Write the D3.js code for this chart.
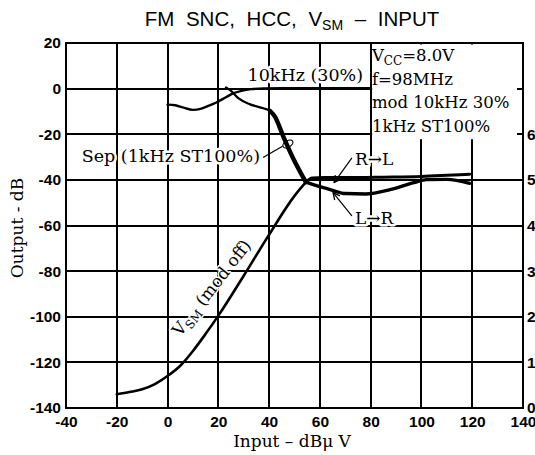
<!DOCTYPE html>
<html><head><meta charset="utf-8">
<script src="https://cdn.jsdelivr.net/npm/d3@7"></script>
<style>
body{margin:0;background:#fff;}
svg{display:block;}
</style>
</head><body>
<svg id="c" width="535" height="455"></svg>
<script>
// ---- data ----
const xTicks = [-40,-20,0,20,40,60,80,100,120,140];
const yTicks = [-140,-120,-100,-80,-60,-40,-20,0,20];
const rightTicks = [0,1,2,3,4,5,6];
const rightTickLabels = ["0","1.","2","3.","4.","5.","6."];

const hcc10k = [[0,-7],[3,-7.3],[6,-8.2],[10,-9.3],[13,-8.9],[16,-7.6],[19,-6.2],[23,-3.8],[26,-2],[29,-1],[33,-0.2],[38,0.1],[45,0.2],[60,0.2],[80,0.2]];
const sepMain = [[23,0.5],[25,-1],[28,-4.3],[32.5,-6.9],[37.7,-8.6],[40.3,-9.7],[42.3,-12.3],[45.6,-21],[49.5,-30.6],[54.5,-41]];
const sepRL = [[54.5,-41],[57,-39.2],[62,-39],[70,-39],[85,-38.8],[100,-38.5],[110,-38],[119,-37.5]];
const sepLR = [[54.5,-41],[60,-43],[65,-44.6],[70,-46],[78,-46.2],[88,-44.2],[97,-41.2],[102,-39.9],[110,-39.8],[119,-41.5]];
const vsm = [[-20,-134],[-15,-133],[-10,-131.8],[-5,-129.5],[0,-126],[5,-121.5],[10,-115],[15,-107.5],[20,-99.5],[30,-82],[40,-64],[50,-47],[54.5,-41]];

// ---- layout ----
const L = 66, R = 523, T = 43, B = 408;
const svg = d3.select("#c");
const x = d3.scaleLinear().domain([-40,140]).range([L,R]);
const y = d3.scaleLinear().domain([-140,20]).range([B,T]);
const yR = d3.scaleLinear().domain([0,8]).range([B,T]);
const serif = "'DejaVu Serif', serif";
const sans = "'Liberation Sans', Arial, sans-serif";
const fmt = d => String(d);

svg.append("rect").attr("x",0).attr("y",0).attr("width",535).attr("height",455).attr("fill","#fff");
const gGrid = svg.append("g").attr("id","grid").attr("shape-rendering","crispEdges");
const gCurves = svg.append("g").attr("id","curves");
const gBox = svg.append("g").attr("id","box");
const gText = svg.append("g").attr("id","texts");

// grid: pixel-aligned 2px bars from the scales
gGrid.selectAll("rect.gv").data(xTicks).join("rect").attr("class","gv")
  .attr("x", d => Math.round(x(d)) - 1).attr("y", T).attr("width", 2).attr("height", B - T)
  .attr("fill", "#000");
gGrid.selectAll("rect.gh").data(yTicks).join("rect").attr("class","gh")
  .attr("x", L).attr("y", d => Math.round(y(d)) - 1).attr("width", R - L).attr("height", 2)
  .attr("fill", "#000");

const halo = (sel, w) => sel.style("paint-order","stroke").style("stroke","#fff").style("stroke-width",(w||4)+"px").style("stroke-linejoin","round");

// curves
const lineGen = d3.line().x(d=>x(d[0])).y(d=>y(d[1])).curve(d3.curveMonotoneX);
const path = (data,w)=>gCurves.append("path").attr("d",lineGen(data)).attr("fill","none")
  .attr("stroke","#000").attr("stroke-width",w).attr("stroke-linejoin","round").attr("stroke-linecap","round");
path(hcc10k, 2.4);
path(vsm, 2.6);
path(sepMain, 2.2);
path(sepMain.filter(d=>d[1] <= -9.7), 4.4);
path(sepRL, 3);
path(sepLR, 3.4);

// axes labels
function styleAxis(g){
  g.select(".domain").remove();
  g.selectAll("text").attr("font-family",null).attr("font-size",null)
    .style("font-family",sans).style("font-weight","bold").style("font-size","15.5px").attr("fill","#000");
}
const ax = svg.append("g").attr("transform",`translate(${L},0)`)
  .call(d3.axisLeft(y).tickValues(yTicks).tickFormat(fmt).tickSize(0).tickPadding(5));
styleAxis(ax);
const bx = svg.append("g").attr("transform",`translate(0,${B})`)
  .call(d3.axisBottom(x).tickValues(xTicks).tickFormat(fmt).tickSize(0).tickPadding(8));
styleAxis(bx);
const rx = svg.append("g").attr("transform",`translate(${R},0)`)
  .call(d3.axisRight(yR).tickValues(rightTicks).tickFormat((d,i)=>rightTickLabels[i]).tickSize(0).tickPadding(4));
styleAxis(rx);

// title
const title = svg.append("text").attr("x",292).attr("y",26).attr("text-anchor","middle")
  .style("font-family",sans).style("font-size","20.5px").style("word-spacing","6px");
title.append("tspan").text("FM SNC, HCC, V");
title.append("tspan").style("font-size","14px").attr("dy",4).text("SM");
title.append("tspan").attr("dy",-4).text(" \u2013 INPUT");

// axis titles
svg.append("text").attr("x",292).attr("y",447).attr("text-anchor","middle")
  .style("font-family",serif).style("font-size","17px").text("Input \u2013 dB\u03bc V");
svg.append("text").attr("transform","translate(23,228) rotate(-90)").attr("text-anchor","middle")
  .style("font-family",serif).style("font-size","17px").text("Output - dB");

// condition box (white panel over the grid)
gBox.append("rect").attr("x",x(80)+1.5).attr("y",T+1.5).attr("width",x(140)-x(80)-3).attr("height",y(-21.5)-T)
  .attr("fill","#fff");
const cond = gText.append("g").style("font-family",serif).style("font-size","16.5px");
const t1 = cond.append("text").attr("x",x(80.5)).attr("y",y(12.2));
t1.append("tspan").text("V");
t1.append("tspan").style("font-size","12px").attr("dy",4).text("CC");
t1.append("tspan").attr("dy",-4).text("=8.0V");
cond.append("text").attr("x",x(80.5)).attr("y",y(1.6)).text("f=98MHz");
cond.append("text").attr("x",x(80.5)).attr("y",y(-8.5)).text("mod 10kHz 30%");
cond.append("text").attr("x",x(80.5)).attr("y",y(-19)).text("1kHz ST100%");

// annotations with white halo
const lab = (txt, xv, yv, anchor, fs) => {
  const t = gText.append("text").attr("x",x(xv)).attr("y",y(yv)).attr("text-anchor",anchor||"start")
    .style("font-family",serif).style("font-size",(fs||17)+"px").style("fill","#000").text(txt);
  halo(t, 5);
  return t;
};
lab("10kHz (30%)", 31.5, 3.3, "start", 17.5);
lab("Sep (1kHz ST100%)", 36.4, -32.2, "end", 17.5);
lab("R\u2192L", 73.8, -33.5);
lab("L\u2192R", 73.8, -59.4);

// VSM rotated label
const vtr = `translate(${x(5.0)},${y(-109.0)}) rotate(-52)`;
const vt = gText.append("text").attr("transform",vtr).style("font-family",serif).style("font-size","17px").style("fill","#000");
vt.append("tspan").text("V");
vt.append("tspan").style("font-size","12px").attr("dy",4).text("SM");
vt.append("tspan").attr("dy",-4).text(" (mod off)");
halo(vt, 3);

// leaders
svg.append("defs").append("marker").attr("id","ah").attr("viewBox","0 0 10 10").attr("refX",9).attr("refY",5)
  .attr("markerWidth",7).attr("markerHeight",7).attr("orient","auto")
  .append("path").attr("d","M1,1 L9,5 L1,9").attr("fill","none").attr("stroke","#000").attr("stroke-width",1.6);
const leader = (a,b,arrow)=>{
  const l = gText.append("line").attr("x1",x(a[0])).attr("y1",y(a[1])).attr("x2",x(b[0])).attr("y2",y(b[1]))
    .attr("stroke","#000").attr("stroke-width",1.2);
  if(arrow) l.attr("marker-end","url(#ah)");
};
leader([72.6,-30.4],[65.6,-41.2],true);
leader([72.6,-55.8],[65.2,-45.6],true);
leader([37.6,-30.2],[45.3,-25.3],false);
gText.append("ellipse").attr("cx",x(47.4)).attr("cy",y(-24.3)).attr("rx",5.5).attr("ry",3.2)
  .attr("transform",`rotate(-30,${x(47.4)},${y(-24.3)})`).attr("fill","none").attr("stroke","#000").attr("stroke-width",1.2);

// right axis inner ticks (visible inside the condition panel)
gText.selectAll("rect.rt").data(yTicks).join("rect").attr("class","rt")
  .attr("x", R - 6).attr("y", d => Math.round(y(d)) - 1).attr("width", 6).attr("height", 2).attr("fill","#000");

// frame
svg.append("rect").attr("x",L).attr("y",T).attr("width",R-L).attr("height",B-T)
  .attr("fill","none").attr("stroke","#000").attr("stroke-width",2);
</script>
</body></html>
